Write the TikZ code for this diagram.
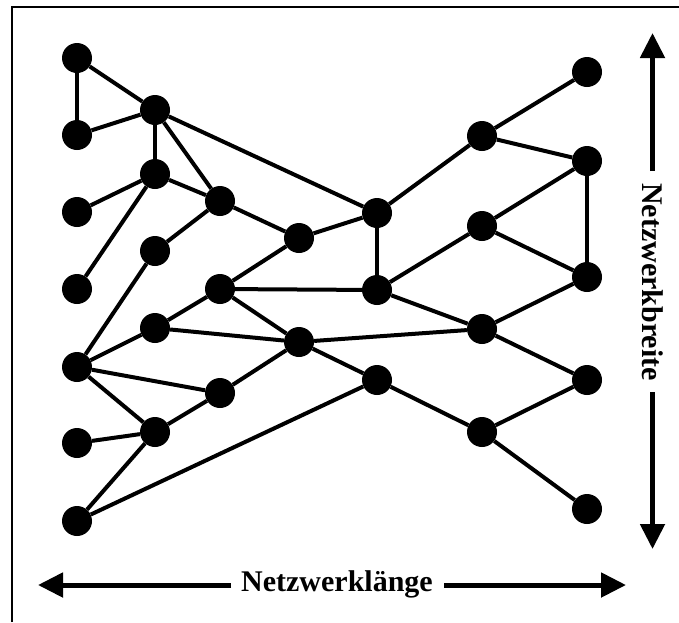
\documentclass[tikz,border=0pt]{standalone}
\usepackage{fontspec}
\setmainfont{Liberation Serif}
\usetikzlibrary{arrows.meta}
\begin{document}
\begin{tikzpicture}[x=1pt,y=-1pt,
  vertex/.style={circle,fill=black,inner sep=0pt,minimum size=30pt},
  link/.style={line width=4pt},
  dimarrow/.style={line width=5pt,-{Triangle[length=25pt,width=24pt]}},
  dimlabel/.style={font=\bfseries\fontsize{30}{35}\selectfont,inner sep=0pt}]
\useasboundingbox (0,0) rectangle (679,622);
% frame
\draw[line width=2pt] (12,622) -- (12,7) -- (679,7);
% vertices
\node[vertex] (L1) at (77,58) {};
\node[vertex] (L2) at (77,135) {};
\node[vertex] (L3) at (77,212) {};
\node[vertex] (L4) at (77,289) {};
\node[vertex] (L5) at (77,367) {};
\node[vertex] (L6) at (77,443) {};
\node[vertex] (L7) at (77,521) {};
\node[vertex] (B1) at (155,110) {};
\node[vertex] (B2) at (155,174) {};
\node[vertex] (B3) at (155,251) {};
\node[vertex] (B4) at (155,328) {};
\node[vertex] (B5) at (155,432) {};
\node[vertex] (C1) at (220,201) {};
\node[vertex] (C2) at (220,289) {};
\node[vertex] (C3) at (220,393) {};
\node[vertex] (D1) at (299,238) {};
\node[vertex] (D2) at (299,342) {};
\node[vertex] (E1) at (377,213) {};
\node[vertex] (E2) at (377,290) {};
\node[vertex] (E3) at (377,380) {};
\node[vertex] (F1) at (482,136) {};
\node[vertex] (F2) at (482,226) {};
\node[vertex] (F3) at (482,329) {};
\node[vertex] (F4) at (482,432) {};
\node[vertex] (G1) at (587,72) {};
\node[vertex] (G2) at (587,161) {};
\node[vertex] (G3) at (587,277) {};
\node[vertex] (G4) at (587,380) {};
\node[vertex] (G5) at (587,509) {};
% links
\foreach \a/\b in {L1/L2,L1/B1,L2/B1,B1/B2,B1/C1,B1/E1,L3/B2,L4/B2,B2/C1,
  C1/D1,D1/E1,B3/C1,L5/B3,D1/C2,C2/E2,C2/B4,C2/D2,B4/L5,B4/D2,L5/C3,L5/B5,
  L6/B5,L7/B5,B5/C3,C3/D2,D2/E3,D2/F3,E3/L7,E3/F4,E1/E2,E1/F1,F1/G1,F1/G2,
  G2/F2,G2/G3,F2/G3,F2/E2,E2/F3,F3/G3,F3/G4,F4/G4,F4/G5}
  \draw[link] (\a) -- (\b);
% length dimension
\node[dimlabel] (hl) at (337,584) {Netzwerklänge};
\coordinate (hA) at (231,585);
\coordinate (hB) at (444,585);
\coordinate (hL) at (38,585);
\coordinate (hR) at (626,585);
\draw[dimarrow] (hA) -- (hL);
\draw[dimarrow] (hB) -- (hR);
% width dimension
\node[dimlabel,rotate=-90] (vl) at (653,282) {Netzwerkbreite};
\coordinate (vA) at (652.5,171);
\coordinate (vB) at (652.5,392);
\coordinate (vT) at (652.5,33);
\coordinate (vD) at (652.5,549);
\draw[dimarrow] (vA) -- (vT);
\draw[dimarrow] (vB) -- (vD);
\end{tikzpicture}
\end{document}
